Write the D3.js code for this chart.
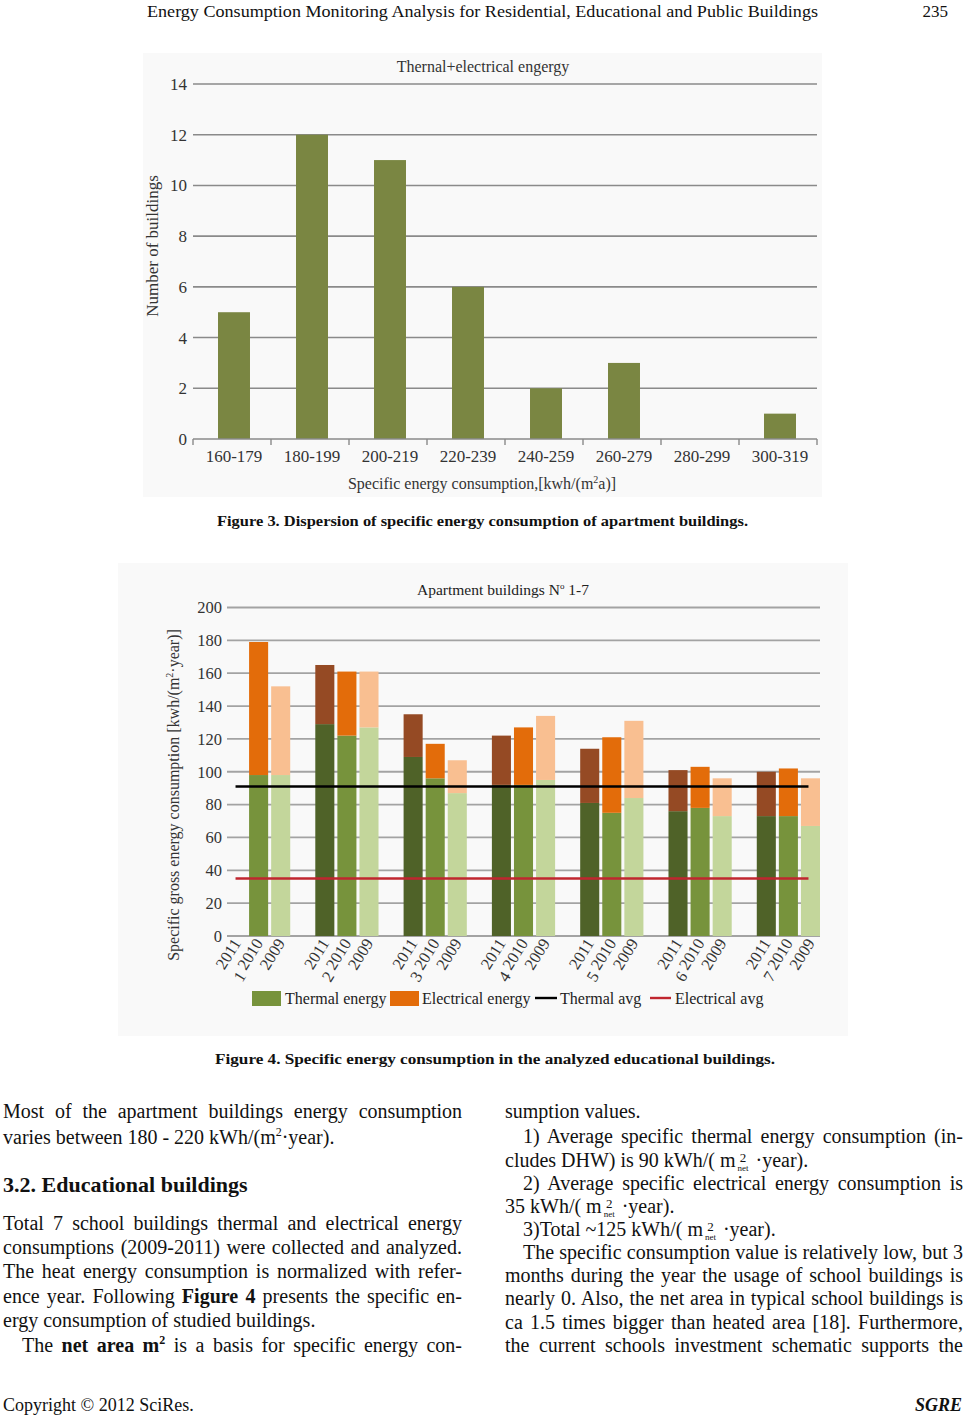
<!DOCTYPE html>
<html><head><meta charset="utf-8">
<script src="https://cdn.jsdelivr.net/npm/d3@7"></script>
<style>
body{margin:0;background:#fff;}
#page{position:relative;width:965px;height:1416px;overflow:hidden;font-family:"Liberation Serif","Times New Roman",serif;color:#111;}
#page svg{position:absolute;left:0;top:0;}
#page svg text{font-family:"Liberation Serif","Times New Roman",serif;}
.ln{position:absolute;font-size:20px;line-height:24px;white-space:nowrap;}
.j{text-align:justify;text-align-last:justify;white-space:normal;}
.h{font-size:22px;font-weight:bold;}
.ss{display:inline-block;vertical-align:-4px;text-align:center;line-height:11px;margin:0 2px;}
.ss .a{display:block;font-size:13px;}
.ss .b{display:block;font-size:9px;}
sup{font-size:12px;line-height:0;}
</style></head>
<body><div id="page"></div>
<script>
// ---------- Figure 3 data ----------
const histCategories = ["160-179","180-199","200-219","220-239","240-259","260-279","280-299","300-319"];
const histCounts = [5,12,11,6,2,3,0,1];
const histTicks = [0,2,4,6,8,10,12,14];

// ---------- Figure 4 data ----------
const buildings = ["1","2","3","4","5","6","7"];
const years = ["2011","2010","2009"];
const thermal2011 = [0,129,109,92,81,76,73];
const electrical2011 = [0,36,26,30,33,25,27];
const thermal2010 = [98,122,96,92,75,78,73];
const electrical2010 = [81,39,21,35,46,25,29];
const thermal2009 = [98,127,87,95,84,73,67];
const electrical2009 = [54,34,20,39,47,23,29];
const eduTicks = [0,20,40,60,80,100,120,140,160,180,200];
const thermalAvg = 91;
const electricalAvg = 35;
const legendLabels = ["Thermal energy","Electrical energy","Thermal avg","Electrical avg"];

const page = d3.select("#page");
const svg = page.append("svg").attr("width",965).attr("height",1416);
const FONT = "Liberation Serif";

function styleAxis(sel, size){
  sel.attr("font-family",FONT).attr("font-size",size);
  sel.select(".domain").remove();
  sel.selectAll("text").style("font-family","'Liberation Serif', serif").style("font-size",size+"px").attr("fill","#333");
}

// Header
svg.append("text").attr("x",147).attr("y",17).attr("font-size",17)
  .attr("textLength",671).attr("lengthAdjust","spacingAndGlyphs").attr("fill","#111")
  .text("Energy Consumption Monitoring Analysis for Residential, Educational and Public Buildings");
svg.append("text").attr("x",948).attr("y",17).attr("text-anchor","end").attr("font-size",17).attr("fill","#111").text("235");

// ================= Figure 3 =================
const g1 = svg.append("g");
g1.append("rect").attr("x",143).attr("y",53).attr("width",679).attr("height",444).attr("fill","#f9f9f9");
const x1 = d3.scaleBand().domain(histCategories).range([193,817]).paddingInner(0.59).paddingOuter(0.295);
const y1 = d3.scaleLinear().domain([0,14]).range([439,84]);
g1.append("g").selectAll("line").data(histTicks.filter(t=>t>0)).join("line")
  .attr("x1",193).attr("x2",817).attr("y1",d=>y1(d)).attr("y2",d=>y1(d))
  .attr("stroke","#8a8a8a").attr("stroke-width",1.6);
g1.append("g").selectAll("rect").data(histCategories).join("rect")
  .attr("x",d=>x1(d)+2).attr("width",x1.bandwidth())
  .attr("y",(d,i)=>y1(histCounts[i])).attr("height",(d,i)=>y1(0)-y1(histCounts[i]))
  .attr("fill","#7a8642");
g1.append("line").attr("x1",193).attr("x2",817).attr("y1",y1(0)).attr("y2",y1(0)).attr("stroke","#8a8a8a").attr("stroke-width",1.6);
const bounds1 = histCategories.map(c=>x1(c)-x1.step()*x1.paddingOuter()).concat([817]);
g1.append("g").selectAll("line").data(bounds1).join("line")
  .attr("x1",d=>d).attr("x2",d=>d).attr("y1",y1(0)).attr("y2",y1(0)+6).attr("stroke","#8a8a8a").attr("stroke-width",1.4);
const xa1 = g1.append("g").attr("transform",`translate(2,${y1(0)})`).call(d3.axisBottom(x1).tickSize(0).tickPadding(11));
styleAxis(xa1,17);
const ya1 = g1.append("g").attr("transform","translate(193,0)").call(d3.axisLeft(y1).tickValues(histTicks).tickSize(0).tickPadding(6));
styleAxis(ya1,17);
g1.append("text").attr("x",483).attr("y",72).attr("text-anchor","middle").attr("font-size",16).attr("fill","#333").text("Thernal+electrical engergy");
g1.append("text").attr("transform","translate(158,246) rotate(-90)").attr("text-anchor","middle").attr("font-size",17).attr("fill","#333").text("Number of buildings");
const xt1 = g1.append("text").attr("x",482).attr("y",489).attr("text-anchor","middle").attr("font-size",16).attr("fill","#333");
xt1.append("tspan").text("Specific energy consumption,[kwh/(m");
xt1.append("tspan").attr("font-size",10).attr("dy",-6).text("2");
xt1.append("tspan").attr("dy",6).text("a)]");

svg.append("text").attr("x",217).attr("y",526).attr("font-weight","bold").attr("font-size",15.5)
  .attr("textLength",531).attr("lengthAdjust","spacingAndGlyphs").attr("fill","#111")
  .text("Figure 3. Dispersion of specific energy consumption of apartment buildings.");

// ================= Figure 4 =================
const g2 = svg.append("g");
g2.append("rect").attr("x",118).attr("y",563).attr("width",730).attr("height",473).attr("fill","#f9f9f9");
const xB = d3.scaleBand().domain(buildings).range([227,820]).paddingInner(0.284).paddingOuter(0);
const xY = d3.scaleBand().domain(years).range([0,xB.bandwidth()]).paddingInner(0.137);
const y2 = d3.scaleLinear().domain([0,200]).range([936,607.5]);
g2.append("g").selectAll("line").data(eduTicks).join("line")
  .attr("x1",227).attr("x2",820).attr("y1",d=>y2(d)).attr("y2",d=>y2(d))
  .attr("stroke","#a3a3a3").attr("stroke-width",1.8);
const ya2 = g2.append("g").attr("transform","translate(227,0)").call(d3.axisLeft(y2).tickValues(eduTicks).tickSize(0).tickPadding(5));
styleAxis(ya2,16.5);

const series = [
  {year:"2011", thermal:thermal2011, elec:electrical2011, tc:"#4f6228", ec:"#954a24"},
  {year:"2010", thermal:thermal2010, elec:electrical2010, tc:"#77933c", ec:"#e36c0a"},
  {year:"2009", thermal:thermal2009, elec:electrical2009, tc:"#c3d69b", ec:"#f9bf91"}
];
series.forEach(s=>{
  const gs = g2.append("g");
  gs.selectAll("rect.t").data(buildings).join("rect").attr("class","t")
    .attr("x",b=>xB(b)+xY(s.year)).attr("width",xY.bandwidth())
    .attr("y",(b,i)=>y2(s.thermal[i])).attr("height",(b,i)=>y2(0)-y2(s.thermal[i]))
    .attr("fill",s.tc);
  gs.selectAll("rect.e").data(buildings).join("rect").attr("class","e")
    .attr("x",b=>xB(b)+xY(s.year)).attr("width",xY.bandwidth())
    .attr("y",(b,i)=>y2(s.thermal[i]+s.elec[i])).attr("height",(b,i)=>y2(s.thermal[i])-y2(s.thermal[i]+s.elec[i]))
    .attr("fill",s.ec);
});
const firstC = xB(buildings[0])+xY(years[0])+xY.bandwidth()/2;
const lastC = xB(buildings[6])+xY(years[2])+xY.bandwidth()/2;
g2.append("line").attr("x1",firstC-1).attr("x2",lastC-2).attr("y1",y2(thermalAvg)).attr("y2",y2(thermalAvg)).attr("stroke","#000").attr("stroke-width",2.4);
g2.append("line").attr("x1",firstC-1).attr("x2",lastC-2).attr("y1",y2(electricalAvg)).attr("y2",y2(electricalAvg)).attr("stroke","#c0262f").attr("stroke-width",2.4);
buildings.forEach(b=>{
  years.forEach(yr=>{
    const cx = xB(b)+xY(yr)+xY.bandwidth()/2;
    g2.append("text").attr("transform",`translate(${cx+5},${943}) rotate(-58)`).attr("text-anchor","end")
      .attr("font-size",16.5).attr("fill","#333").text(yr);
  });
  const c0 = xB(b)+xY(years[0])+xY.bandwidth()/2;
  g2.append("text").attr("transform",`translate(${c0+10},${976}) rotate(-58)`).attr("text-anchor","end")
    .attr("font-size",16.5).attr("fill","#333").text(b);
});
g2.append("text").attr("x",503).attr("y",595).attr("text-anchor","middle").attr("font-size",15.5).attr("fill","#222")
  .call(t=>{t.append("tspan").text("Apartment buildings N");t.append("tspan").attr("font-size",9).attr("dy",-6).text("o");t.append("tspan").attr("dy",6).text(" 1-7");});
const yt2 = g2.append("text").attr("transform","translate(179,795) rotate(-90)").attr("text-anchor","middle").attr("font-size",16).attr("fill","#333");
yt2.append("tspan").text("Specific gross energy consumption [kwh/(m");
yt2.append("tspan").attr("font-size",10).attr("dy",-6).text("2");
yt2.append("tspan").attr("dy",6).text("·year)]");
const lg = g2.append("g").attr("font-size",16).attr("fill","#222");
lg.append("rect").attr("x",252).attr("y",991).attr("width",29).attr("height",15).attr("fill","#77933c");
lg.append("text").attr("x",285).attr("y",1004).text(legendLabels[0]);
lg.append("rect").attr("x",390).attr("y",991).attr("width",29).attr("height",15).attr("fill","#e36c0a");
lg.append("text").attr("x",422).attr("y",1004).text(legendLabels[1]);
lg.append("line").attr("x1",535).attr("x2",557).attr("y1",998).attr("y2",998).attr("stroke","#000").attr("stroke-width",2.4);
lg.append("text").attr("x",560).attr("y",1004).text(legendLabels[2]);
lg.append("line").attr("x1",650).attr("x2",671).attr("y1",998).attr("y2",998).attr("stroke","#c0262f").attr("stroke-width",2.4);
lg.append("text").attr("x",675).attr("y",1004).text(legendLabels[3]);

svg.append("text").attr("x",215).attr("y",1064).attr("font-weight","bold").attr("font-size",15.5)
  .attr("textLength",560).attr("lengthAdjust","spacingAndGlyphs").attr("fill","#111")
  .text("Figure 4. Specific energy consumption in the analyzed educational buildings.");

// ================= Body text =================
const M2 = 'm<span class="ss"><span class="a">2</span><span class="b">net</span></span>';
const leftLines = [
  {c:1113, j:1, h:"Most of the apartment buildings energy consumption"},
  {c:1139, j:0, h:"varies between 180 - 220 kWh/(m<sup>2</sup>·year)."},
  {c:1187, j:0, h:"3.2. Educational buildings", cls:"h"},
  {c:1225, j:1, h:"Total 7 school buildings thermal and electrical energy"},
  {c:1249, j:1, h:"consumptions (2009-2011) were collected and analyzed."},
  {c:1273, j:1, h:"The heat energy consumption is normalized with refer-"},
  {c:1298, j:1, h:"ence year. Following <b>Figure 4</b> presents the specific en-"},
  {c:1322, j:0, h:"ergy consumption of studied buildings."},
  {c:1347, j:1, ind:19, h:"The <b>net area m<sup>2</sup></b> is a basis for specific energy con-"}
];
const rightLines = [
  {c:1113, j:0, h:"sumption values."},
  {c:1138, j:1, ind:18, h:"1) Average specific thermal energy consumption (in-"},
  {c:1162, j:0, h:"cludes DHW) is 90 kWh/( "+M2+" ·year)."},
  {c:1185, j:1, ind:18, h:"2) Average specific electrical energy consumption is"},
  {c:1208, j:0, h:"35 kWh/( "+M2+" ·year)."},
  {c:1231, j:0, ind:18, h:"3)Total ~125 kWh/( "+M2+" ·year)."},
  {c:1254, j:1, ind:18, h:"The specific consumption value is relatively low, but 3"},
  {c:1277, j:1, h:"months during the year the usage of school buildings is"},
  {c:1300, j:1, h:"nearly 0. Also, the net area in typical school buildings is"},
  {c:1324, j:1, h:"ca 1.5 times bigger than heated area [18]. Furthermore,"},
  {c:1347, j:1, h:"the current schools investment schematic supports the"}
];
function putLines(lines, x0, w){
  lines.forEach(l=>{
    const ind = l.ind||0;
    page.append("div").attr("class","ln"+(l.j?" j":"")+(l.cls?" "+l.cls:""))
      .style("left",(x0+ind)+"px").style("top",(l.c-14)+"px").style("width",(w-ind)+"px")
      .html(l.h);
  });
}
putLines(leftLines, 3, 459);
putLines(rightLines, 505, 458);

page.append("div").attr("class","ln").style("left","3px").style("top",(1407-14)+"px").style("font-size","18px").html("Copyright © 2012 SciRes.");
page.append("div").attr("class","ln").style("right","3px").style("top",(1407-14)+"px").style("font-size","18px").html("<b><i>SGRE</i></b>");
</script>
</body></html>
